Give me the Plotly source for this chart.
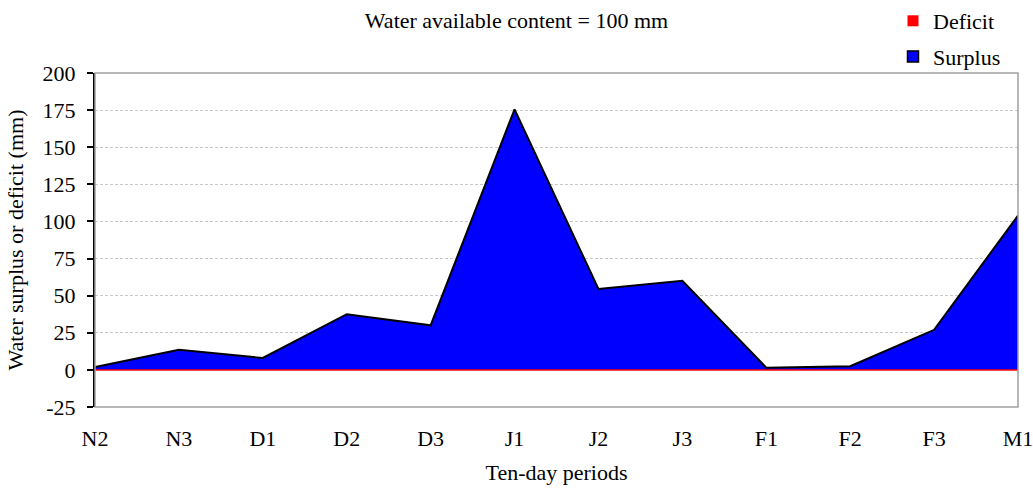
import plotly.graph_objects as go

periods = ["N2", "N3", "D1", "D2", "D3", "J1", "J2", "J3", "F1", "F2", "F3", "M1"]
surplus = [2, 13.5, 8, 37.5, 30, 175.5, 54.5, 60, 1.5, 2.5, 27, 104]
deficit = [0, 0, 0, 0, 0, 0, 0, 0, 0, 0, 0, 0]
y_ticks = [-25, 0, 25, 50, 75, 100, 125, 150, 175, 200]
y_tick_text = ["-25", "0", "25", "50", "75", "100", "125", "150", "175", "200"]

FONT = "Liberation Serif, Times New Roman, serif"
FS = 22

fig = go.Figure()
fig.add_trace(go.Scatter(
    x=periods, y=surplus, mode="lines", fill="tozeroy",
    fillcolor="#0000FF", line=dict(color="black", width=2),
    showlegend=False, hoverinfo="skip"))
fig.add_trace(go.Scatter(
    x=periods, y=deficit, mode="lines",
    line=dict(color="#FF0000", width=1.5),
    showlegend=False, hoverinfo="skip"))
# legend entries
fig.add_trace(go.Scatter(
    x=[None], y=[None], mode="markers", name="Deficit", legendgroup="d",
    marker=dict(symbol="square", size=11, color="#FF0000", line=dict(width=0))))
fig.add_trace(go.Scatter(
    x=[None], y=[None], mode="markers", name="Surplus", legendgroup="s",
    marker=dict(symbol="square", size=11, color="#0000FF", line=dict(color="black", width=1.5))))

fig.update_layout(
    width=1033, height=488,
    margin=dict(l=95, r=15, t=73, b=81, autoexpand=False),
    paper_bgcolor="white", plot_bgcolor="white",
    font=dict(family=FONT, size=FS, color="black"),
    title=dict(text="Water available content = 100 mm", x=0.5, xanchor="center",
               y=1 - 20 / 488, yanchor="middle", font=dict(family=FONT, size=FS)),
    legend=dict(xref="container", yref="container", x=893 / 1033, y=1 + 5 / 488,
                xanchor="left", yanchor="top", bgcolor="rgba(0,0,0,0)",
                tracegroupgap=4, font=dict(family=FONT, size=FS)),
    shapes=[dict(type="rect", xref="paper", yref="paper", x0=0, x1=1, y0=0, y1=1,
                 line=dict(color="#A0A0A0", width=1.5), layer="above")],
)
fig.update_xaxes(
    type="category", range=[0, len(periods) - 1],
    showgrid=False, zeroline=False, showline=False,
    ticks="", ticklabelstandoff=16,
    title=dict(text="Ten-day periods", standoff=14, font=dict(family=FONT, size=FS)),
)
fig.update_yaxes(
    range=[-25, 200], tickvals=y_ticks, ticktext=y_tick_text, zeroline=False,
    showgrid=True, gridcolor="#C8C8C8", griddash="3px,2px", gridwidth=1,
    showline=True, linecolor="black", linewidth=2,
    ticks="outside", ticklen=6, tickcolor="black", tickwidth=2,
    ticklabelstandoff=7,
    title=dict(text="Water surplus or deficit (mm)", standoff=13, font=dict(family=FONT, size=FS)),
)

fig.write_html("out.html", config={"displayModeBar": False},
               post_script="document.body.style.margin='0';document.body.style.overflow='hidden';")
